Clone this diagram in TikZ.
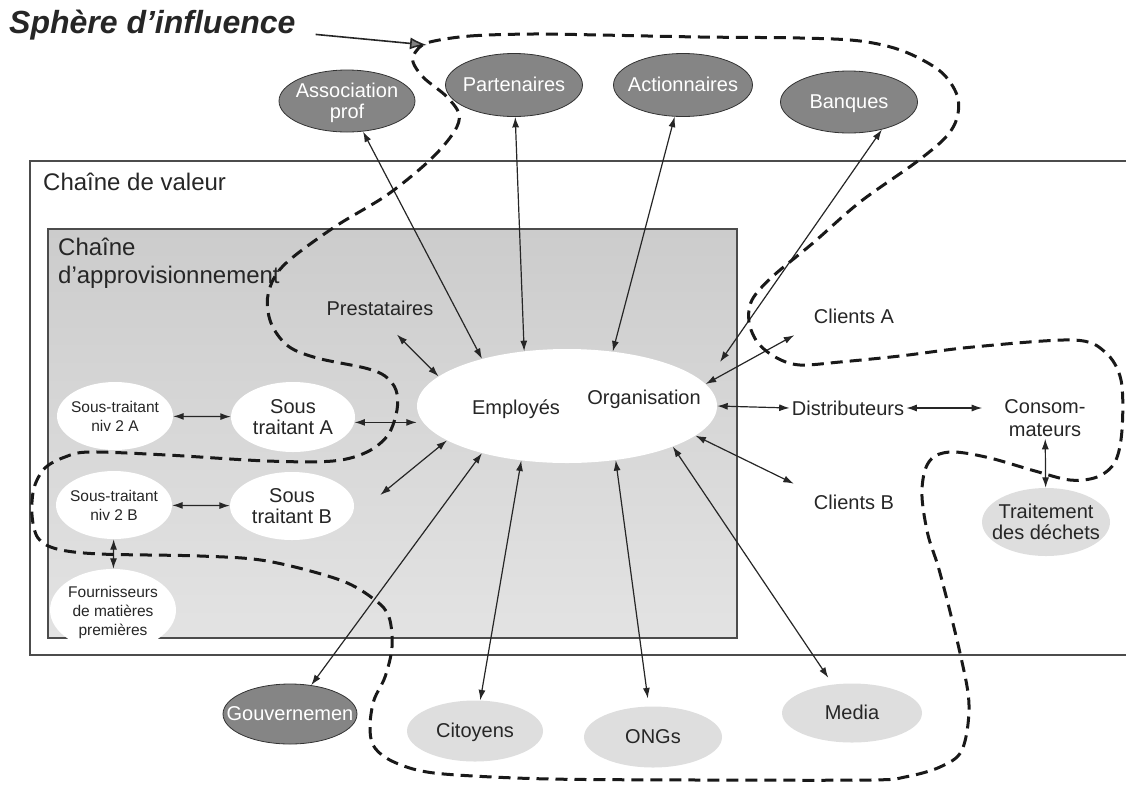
\documentclass[tikz,border=0pt]{standalone}
\usepackage{fontspec}
\setmainfont{Liberation Sans}
\usepackage{tikz}
\usetikzlibrary{%
  shapes, shapes.geometric, arrows.meta, positioning, calc
}
\usepackage{xcolor}

% text centred in a bubble, the bubble keeps its own size
\newcommand{\ztxt}[1]{\makebox[0pt]{\raisebox{-0.39em}{\begin{tabular}{@{}c@{}}#1\end{tabular}}}}

\begin{document}
\begin{tikzpicture}[%
    x=1pt, y=-1pt,
    >={Latex[length=10.5pt,width=7pt]},
    every node/.style={%
      font=\fontsize{20}{21}\selectfont,
      text=black!85
    },
    txt/.style={align=center, inner sep=2pt},
    dims/.style 2 args={minimum width=#1pt, minimum height=#2pt},
    bubble/.style={ellipse, inner sep=0pt, text height=0pt, text depth=0pt},
    darkbub/.style={bubble, fill=black!48, draw=black!80, line width=0.8pt, text=white},
    lightbub/.style={bubble, fill=black!13},
    whitebub/.style={bubble, fill=white},
    small/.style={font=\fontsize{15.5}{19}\selectfont},
    heading/.style={font=\fontsize{24}{28}\selectfont, anchor=west, align=left, inner sep=0pt},
    link/.style={<->, line width=1.2pt, black!85},
    sphere/.style={dash pattern=on 12pt off 7pt, line width=3pt, black!90}
  ]

  \useasboundingbox (0,0) rectangle (1126,785);

  % Boxes
  \draw[black!70, line width=1.6pt] (1126,161) -| (30,655) -- (1126,655);
  \draw[black!70, line width=1.3pt, top color=black!20, bottom color=black!11]
    (48,229) rectangle (737,638);

  \node[heading] (cv) at (43,182) {Chaîne de valeur};
  \node[heading] (ca) at (58,263) {Chaîne\\d'approvisionnement};
  \node[font=\fontsize{32}{34}\selectfont\bfseries\itshape, anchor=west, inner sep=0pt]
    (title) at (9,25) {Sphère d’influence};

  % Centre
  \node[whitebub, dims={300}{114}] (core) at (567,406) {};
  \node[txt] (emp) at (516,409) {Employés};
  \node[txt] (orga) at (644,399) {Organisation};

  % Top row
  \node[darkbub, dims={136}{62}] (assoc) at (347,101) {\ztxt{Association\\prof}};
  \node[darkbub, dims={137}{63}] (part) at (514,85) {\ztxt{Partenaires}};
  \node[darkbub, dims={139}{63}] (act) at (683,85) {\ztxt{Actionnaires}};
  \node[darkbub, dims={137}{62}] (banq) at (849,102) {\ztxt{Banques}};

  % Supply chain
  \node[txt] (prest) at (380,308) {Prestataires};
  \node[whitebub, small, dims={116}{68}] (st2a) at (115,416) {\ztxt{Sous-traitant\\niv 2 A}};
  \node[whitebub, dims={124}{70}] (sta) at (293,417) {\ztxt{Sous\\traitant A}};
  \node[whitebub, small, dims={116}{68}] (st2b) at (114,505) {\ztxt{Sous-traitant\\niv 2 B}};
  \node[whitebub, dims={124}{68}] (stb) at (292,506) {\ztxt{Sous\\traitant B}};
  \node[whitebub, small, dims={126}{82}] (fourn) at (113,610)
    {\ztxt{Fournisseurs\\de matières\\premières}};

  % Bottom row
  \node[darkbub, dims={134}{60}] (gouv) at (290,714) {\ztxt{Gouvernemen}};
  \node[lightbub, dims={136}{61}] (cit) at (475,731) {\ztxt{Citoyens}};
  \node[lightbub, dims={138}{61}] (ong) at (653,737) {\ztxt{ONGs}};
  \node[lightbub, dims={140}{59}] (media) at (852,713) {\ztxt{Media}};

  % Downstream
  \node[txt] (cliA) at (854,316) {Clients A};
  \node[txt] (distr) at (848,408) {Distributeurs};
  \node[txt, font=\fontsize{20}{23}\selectfont] (conso) at (1045,418) {Consom-\\mateurs};
  \node[txt] (cliB) at (854,502) {Clients B};
  \node[lightbub, dims={128}{68}] (trait) at (1046,522) {\ztxt{Traitement\\des déchets}};

  \coordinate (sph) at (427,45);

  % Arrows
  \draw[link] (assoc) -- (core.151);
  \draw[link] (part) -- (core.128);
  \draw[link] (act) -- (core.50);
  \draw[link] (banq.-40) -- ([shift={(153,-44)}]core.center);
  \draw[link, shorten <=24pt] (prest.south) -- (core.167);
  \draw[link] (st2a) -- (sta);
  \draw[link] (sta.-5) -- (sta.-5 -| core.west);
  \draw[link] ([shift={(26,-11)}]stb.east) -- (core.196);
  \draw[link] (st2b) -- (stb);
  \draw[link] (st2b) -- (fourn);
  \draw[link] (gouv) -- (core.209);
  \draw[link] (cit) -- (core.230);
  \draw[link, shorten <=8pt] (ong) -- (core.-48);
  \draw[link, shorten <=8pt] (media) -- (core.-21);
  \draw[link, shorten >=20pt] (core.9) -- (cliA.south west);
  \draw[link] (core.east) -- (distr.west);
  \draw[link, shorten >=20pt] (core.-13) -- (cliB.north west);
  \draw[link, shorten >=20pt] (distr.east) -- (distr.east -| conso.west);
  \draw[link] (conso) -- (trait);
  \draw[line width=1.6pt, black!85, shorten <=20pt,
    -{Latex[length=17pt,width=12pt,fill=black!50]}] (title.-3) -- (sph);

  % Sphere of influence
  \draw[sphere] plot[smooth cycle, tension=0.55] coordinates {
    (430,42) (470,36) (533,34) (600,35) (700,37) (800,38) (860,41) (903,51)
    (940,71) (957,95) (957,118) (945,138) (915,163) (860,202) (813,243)
    (772,277) (752,300) (749,322) (758,343) (777,358) (800,365) (840,362)
    (900,356) (973,347) (1073,340) (1105,352) (1121,380) (1122,430)
    (1115,462) (1097,477) (1070,480) (1035,471) (990,458) (955,452)
    (935,456) (925,470) (922,497) (928,535) (940,573) (960,653) (969,705)
    (962,750) (940,767) (905,777) (870,780) (700,780) (550,779) (457,775)
    (417,770) (388,759) (373,745) (370,725) (374,700) (385,677) (392,647)
    (389,617) (375,600) (340,580) (267,561) (200,556) (100,554) (57,549)
    (38,538) (32,515) (34,488) (45,468) (65,457) (90,452) (167,455)
    (267,461) (333,461) (367,452) (388,435) (397,410) (396,390) (385,376)
    (365,368) (317,358) (288,346) (271,323) (268,295) (283,266) (333,228)
    (387,195) (430,160) (454,132) (459,114) (446,96) (424,78) (413,62)
    (417,50)
  };

\end{tikzpicture}
\end{document}
